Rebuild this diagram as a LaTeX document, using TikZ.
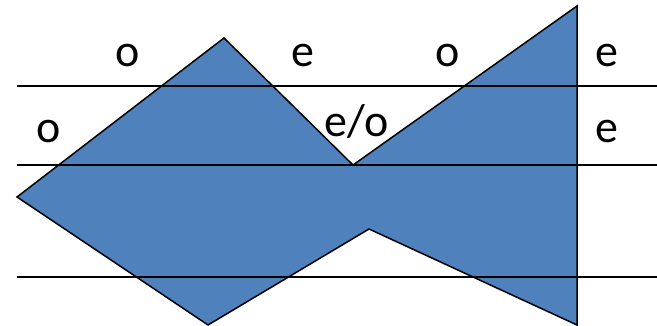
\documentclass[tikz,border=0pt]{standalone}
\usepackage{fontspec}
\setmainfont{Carlito}
\usetikzlibrary{positioning}
\definecolor{fishblue}{RGB}{79,129,189}

\begin{document}
\begin{tikzpicture}[x=1pt, y=-1pt,
    lbl/.style={anchor=base, inner sep=0pt, font=\fontsize{46}{48}\selectfont},
    rule/.style={black, line width=2pt}]

    \useasboundingbox (0,0) rectangle (657,326);

    % --- Fisch ---
    \filldraw[fill=fishblue, draw=black, line width=1.5pt, line join=miter]
        (17,197) -- (224,38) -- (353,165) -- (577,6) -- (577,325)
        -- (369,229) -- (208,325) -- cycle;

    % --- Linien ---
    \foreach \yy in {86, 165, 277} {
        \draw[rule] (17,\yy) -- (657,\yy);
    }

    % --- Beschriftung, obere Zeile ---
    \node[lbl] (o1) at (128,67) {o};
    \node[lbl] (e1) at (303,67) {e};
    \node[lbl] (o2) at (448,67) {o};
    \node[lbl] (e2) at (607,67) {e};

    % --- Beschriftung, zweite Zeile ---
    \node[lbl] (o3) at (49,143) {o};
    \node[lbl] (eo) at (357,137) {e/o};
    \node[lbl] (e3) at (607,143) {e};

\end{tikzpicture}
\end{document}
